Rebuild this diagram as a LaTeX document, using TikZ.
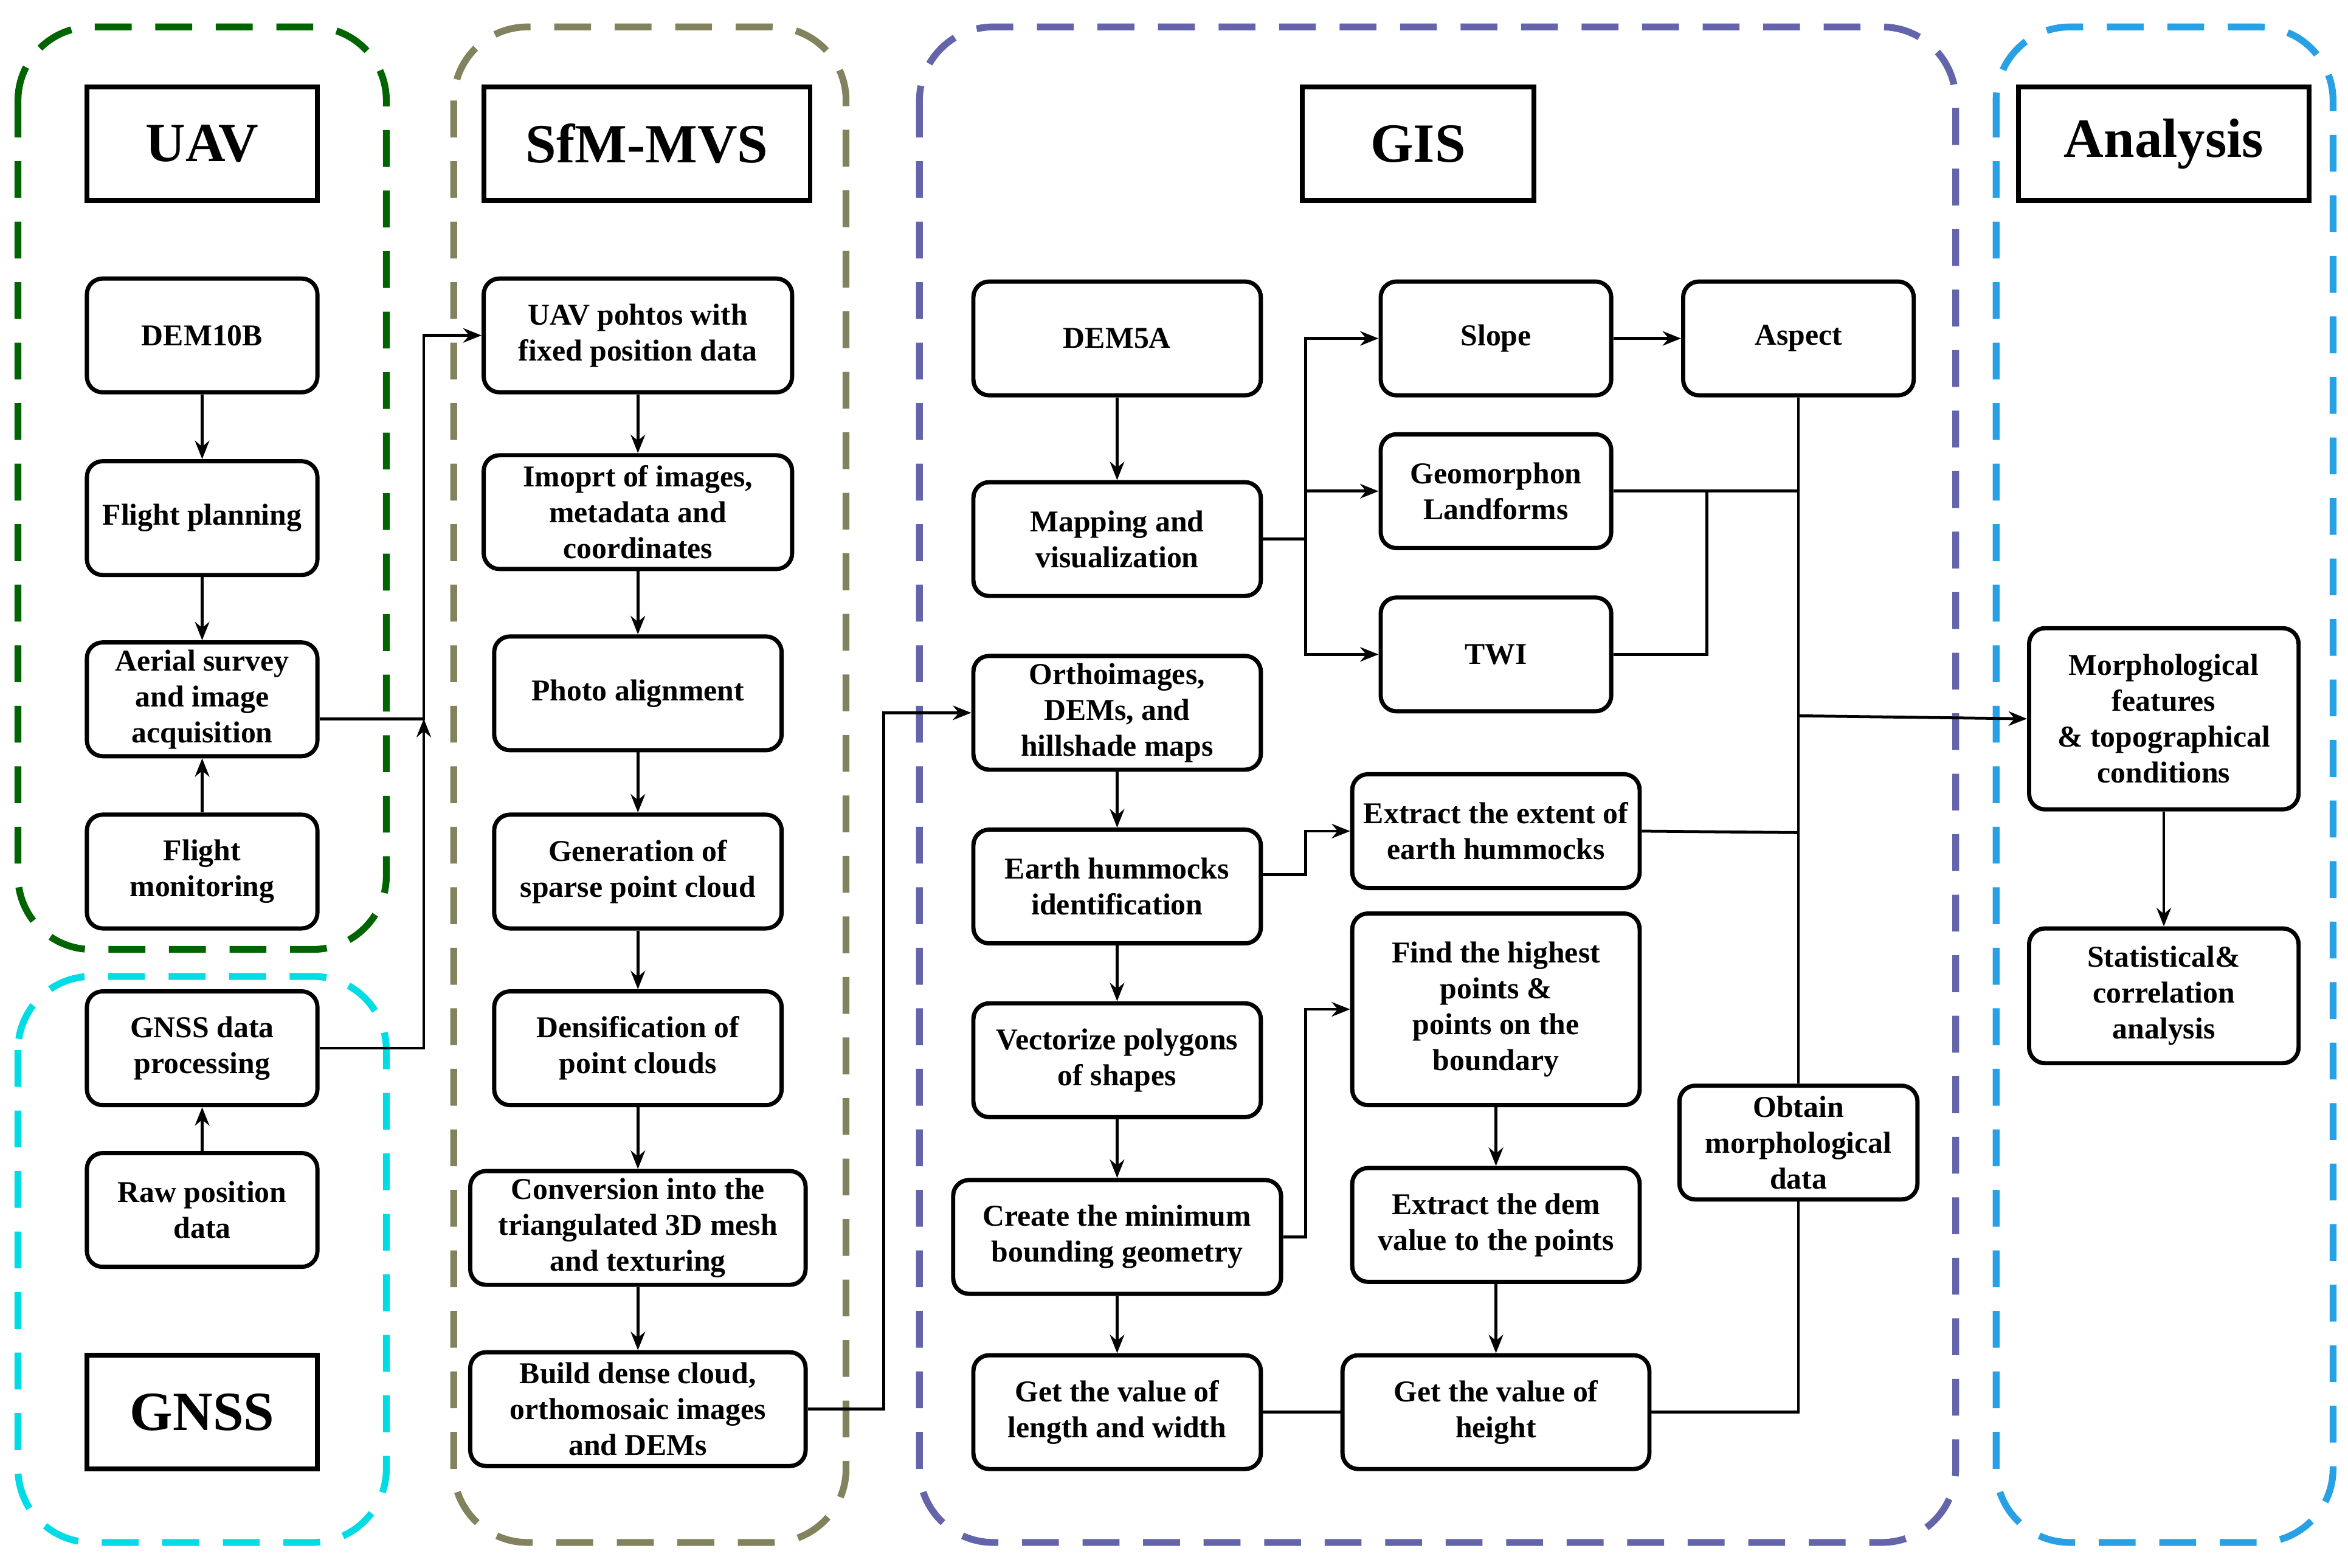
\documentclass[tikz,border=0pt]{standalone}
\usepackage{fontspec}
\setmainfont{Liberation Serif}
\usetikzlibrary{arrows.meta}
\begin{document}
\begin{tikzpicture}[x=0.02cm,y=-0.02cm,>={Stealth[length=7pt,width=5.5pt]},
  box/.style={draw,line width=1.6pt,rounded corners=6pt,align=center,font=\bfseries\fontsize{11.5}{13.6}\selectfont,inner sep=1pt,minimum height=1.52cm},
  ttl/.style={draw,line width=1.8pt,font=\bfseries\fontsize{21}{22}\selectfont,minimum height=1.52cm},
  reg/.style={dashed,line width=2.6pt,rounded corners=28pt,dash pattern=on 14pt off 9pt},
  ar/.style={->,line width=1.1pt},
  ln/.style={line width=1.1pt}]
\useasboundingbox (0,0) rectangle (1568,1047);
\definecolor{cuav}{RGB}{0,100,0}
\definecolor{cgnss}{RGB}{0,220,230}
\definecolor{csfm}{RGB}{130,130,95}
\definecolor{cgis}{RGB}{100,100,170}
\definecolor{cana}{RGB}{40,160,230}
% regions
\draw[reg,cuav] (12,18) rectangle (258,634);
\draw[reg,cgnss] (12,652) rectangle (258,1030);
\draw[reg,csfm] (303,18) rectangle (565,1030);
\draw[reg,cgis] (614,18) rectangle (1306,1030);
\draw[reg,cana] (1333,18) rectangle (1558,1030);
% UAV / GNSS
\node[ttl,minimum width=3.08cm] (tuav) at (135,96) {UAV};
\node[box,minimum width=3.08cm] (dem10) at (135,224) {DEM10B};
\node[box,minimum width=3.08cm] (plan) at (135,346) {Flight planning};
\node[box,minimum width=3.08cm] (aer) at (135,467) {Aerial survey\\and image\\acquisition};
\node[box,minimum width=3.08cm] (mon) at (135,582) {Flight\\monitoring};
\node[box,minimum width=3.08cm] (gnssp) at (135,700) {GNSS data\\processing};
\node[box,minimum width=3.08cm] (raw) at (135,808) {Raw position\\data};
\node[ttl,minimum width=3.08cm] (tgnss) at (135,943) {GNSS};
% SfM
\node[ttl,minimum width=4.36cm] (tsfm) at (432,96) {SfM-MVS};
\node[box,minimum width=4.12cm] (pho) at (426,224) {UAV pohtos with\\fixed position data};
\node[box,minimum width=4.12cm] (imp) at (426,342) {Imoprt of images,\\metadata and\\coordinates};
\node[box,minimum width=3.84cm] (ali) at (426,463) {Photo alignment};
\node[box,minimum width=3.84cm] (spa) at (426,582) {Generation of\\sparse point cloud};
\node[box,minimum width=3.84cm] (den) at (426,700) {Densification of\\point clouds};
\node[box,minimum width=4.48cm] (mesh) at (426,820) {Conversion into the\\triangulated 3D mesh\\and texturing};
\node[box,minimum width=4.48cm] (bld) at (426,941) {Build dense cloud,\\orthomosaic images\\and DEMs};
% GIS
\node[ttl,minimum width=3.1cm] (tgis) at (947,96) {GIS};
\node[box,minimum width=3.84cm] (dem5) at (746,226) {DEM5A};
\node[box,minimum width=3.84cm] (map) at (746,360) {Mapping and\\visualization};
\node[box,minimum width=3.84cm] (ort) at (746,476) {Orthoimages,\\DEMs, and\\hillshade maps};
\node[box,minimum width=3.84cm] (ear) at (746,592) {Earth hummocks\\identification};
\node[box,minimum width=3.84cm] (vec) at (746,708) {Vectorize polygons\\of shapes};
\node[box,minimum width=4.38cm] (mbg) at (746,826) {Create the minimum\\bounding geometry};
\node[box,minimum width=3.84cm] (len) at (746,943) {Get the value of\\length and width};
\node[box,minimum width=3.08cm] (slo) at (999,226) {Slope};
\node[box,minimum width=3.08cm] (asp) at (1201,226) {Aspect};
\node[box,minimum width=3.08cm] (geo) at (999,328) {Geomorphon\\Landforms};
\node[box,minimum width=3.08cm] (twi) at (999,437) {TWI};
\node[box,minimum width=3.84cm] (ext) at (999,555) {Extract the extent of\\earth hummocks};
\node[box,minimum width=3.84cm,minimum height=2.56cm] (fnd) at (999,674) {Find the highest\\points \&\\points on the\\boundary};
\node[box,minimum width=3.84cm] (edm) at (999,818) {Extract the dem\\value to the points};
\node[box,minimum width=4.1cm] (hgt) at (999,943) {Get the value of\\height};
\node[box,minimum width=3.18cm] (obt) at (1201,763) {Obtain\\morphological\\data};
% Analysis
\node[ttl,minimum width=3.88cm] (tana) at (1445,96) {Analysis};
\node[box,minimum width=3.6cm,minimum height=2.42cm] (mor) at (1445,480) {Morphological\\features\\\& topographical\\conditions};
\node[box,minimum width=3.6cm,minimum height=1.8cm] (sta) at (1445,665) {Statistical\&\\correlation\\analysis};
% connectors
\coordinate (j1) at (283,480);
\coordinate (j2) at (872,584);
\draw[ar] (dem10) -- (plan);
\draw[ar] (plan) -- (aer);
\draw[ar] (mon) -- (aer);
\draw[ar] (raw) -- (gnssp);
\draw[ar] (aer.east |- j1) -- (j1) |- (pho.west);
\draw[ar] (gnssp.east) -| (j1);
\draw[ar] (pho) -- (imp);
\draw[ar] (imp) -- (ali);
\draw[ar] (ali) -- (spa);
\draw[ar] (spa) -- (den);
\draw[ar] (den) -- (mesh);
\draw[ar] (mesh) -- (bld);
\draw[ar] (bld.east) -- (590,941) |- (ort.west);
\draw[ar] (dem5) -- (map);
\draw[ar] (ort) -- (ear);
\draw[ar] (ear) -- (vec);
\draw[ar] (vec) -- (mbg);
\draw[ar] (mbg) -- (len);
\draw[ln] (map.east) -- (872,360);
\draw[ar] (872,360) |- (slo.west);
\draw[ar] (872,360) |- (twi.west);
\draw[ar] (872,328) -- (geo.west);
\draw[ar] (slo) -- (asp);
\draw[ln] (asp.south) -- (obt.north);
\draw[ln] (geo.east) -- (1201,328);
\draw[ln] (twi.east) -- (1140,437) -- (1140,328);
\draw[ln] (ext.east) -- (1201,556);
\draw[ar] (1201,478) -- (mor.west);
\draw[ar] (ear.east |- j2) -- (j2) |- (ext.west);
\draw[ar] (mbg.east) -- (872,826) |- (fnd.west);
\draw[ar] (fnd) -- (edm);
\draw[ar] (edm) -- (hgt);
\draw[ln] (len) -- (hgt);
\draw[ln] (hgt.east) -- (1201,943) -- (obt.south);
\draw[ar] (mor) -- (sta);
\end{tikzpicture}
\end{document}
